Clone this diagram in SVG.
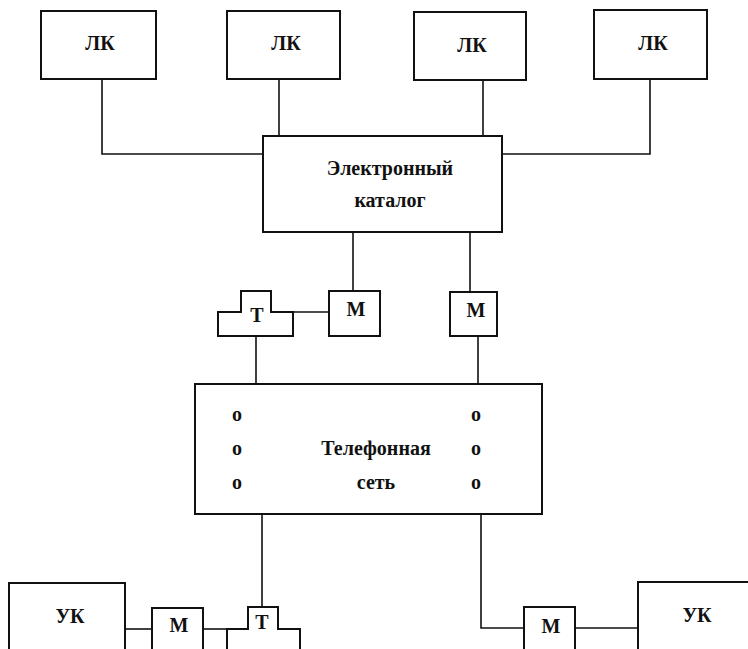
<svg xmlns="http://www.w3.org/2000/svg" width="748" height="649" viewBox="0 0 748 649">
<style>
.box{fill:#fff;stroke:#111;stroke-width:2}
.ln{fill:none;stroke:#111;stroke-width:1.6}
.t{font-family:"Liberation Serif","Times New Roman",serif;font-weight:bold;font-size:20px;fill:#111;text-anchor:middle}
</style>
<rect width="748" height="649" fill="#fff"/>
<g id="connectors">
<polyline class="ln" points="102,79 102,154 263,154"/>
<line class="ln" x1="279" y1="79" x2="279" y2="136"/>
<line class="ln" x1="483" y1="80" x2="483" y2="136"/>
<polyline class="ln" points="650,79 650,154 502,154"/>
<line class="ln" x1="353" y1="232" x2="353" y2="291"/>
<line class="ln" x1="470" y1="232" x2="470" y2="292"/>
<line class="ln" x1="293" y1="312" x2="329" y2="312"/>
<line class="ln" x1="256" y1="336" x2="256" y2="384"/>
<line class="ln" x1="478" y1="336" x2="478" y2="384"/>
<line class="ln" x1="262" y1="514" x2="262" y2="607"/>
<polyline class="ln" points="481,514 481,628 524,628"/>
<line class="ln" x1="125" y1="629" x2="152" y2="629"/>
<line class="ln" x1="203" y1="629" x2="227" y2="629"/>
<line class="ln" x1="575" y1="628" x2="638" y2="628"/>
</g>
<g id="lk1"><rect class="box" x="41" y="11" width="115" height="68"/><text class="t" x="100" y="50">ЛК</text></g>
<g id="lk2"><rect class="box" x="227" y="11" width="113" height="68"/><text class="t" x="286" y="50">ЛК</text></g>
<g id="lk3"><rect class="box" x="414" y="12" width="112" height="68"/><text class="t" x="472" y="52">ЛК</text></g>
<g id="lk4"><rect class="box" x="594" y="10" width="113" height="69"/><text class="t" x="653" y="50">ЛК</text></g>
<g id="catalog"><rect class="box" x="263" y="136" width="239" height="96"/><text class="t" x="390" y="175">Электронный</text><text class="t" x="390" y="207">каталог</text></g>
<g id="t-top"><path class="box" d="M218,336 L218,312 L241,312 L241,291 L271,291 L271,312 L293,312 L293,336 Z"/><text class="t" x="257" y="322">Т</text></g>
<g id="m-top-left"><rect class="box" x="329" y="291" width="51" height="45"/><text class="t" x="356" y="316">М</text></g>
<g id="m-top-right"><rect class="box" x="450" y="292" width="47" height="44"/><text class="t" x="476" y="317">М</text></g>
<g id="phone-net"><rect class="box" x="195" y="384" width="347" height="130"/>
<text class="t" x="237" y="421">о</text><text class="t" x="237" y="455">о</text><text class="t" x="237" y="489">о</text>
<text class="t" x="476" y="421">о</text><text class="t" x="476" y="455">о</text><text class="t" x="476" y="489">о</text>
<text class="t" x="376" y="455">Телефонная</text><text class="t" x="376" y="489">сеть</text></g>
<g id="uk-left"><rect class="box" x="9" y="583" width="116" height="80"/><text class="t" x="70" y="623">УК</text></g>
<g id="m-bottom-left"><rect class="box" x="152" y="608" width="51" height="55"/><text class="t" x="179" y="632">М</text></g>
<g id="t-bottom"><path class="box" d="M227,663 L227,629 L248,629 L248,607 L278,607 L278,629 L300,629 L300,663"/><text class="t" x="262" y="629">Т</text></g>
<g id="m-bottom-right"><rect class="box" x="524" y="607" width="51" height="56"/><text class="t" x="551" y="633">М</text></g>
<g id="uk-right"><rect class="box" x="638" y="582" width="130" height="81"/><text class="t" x="697" y="622">УК</text></g>
</svg>
